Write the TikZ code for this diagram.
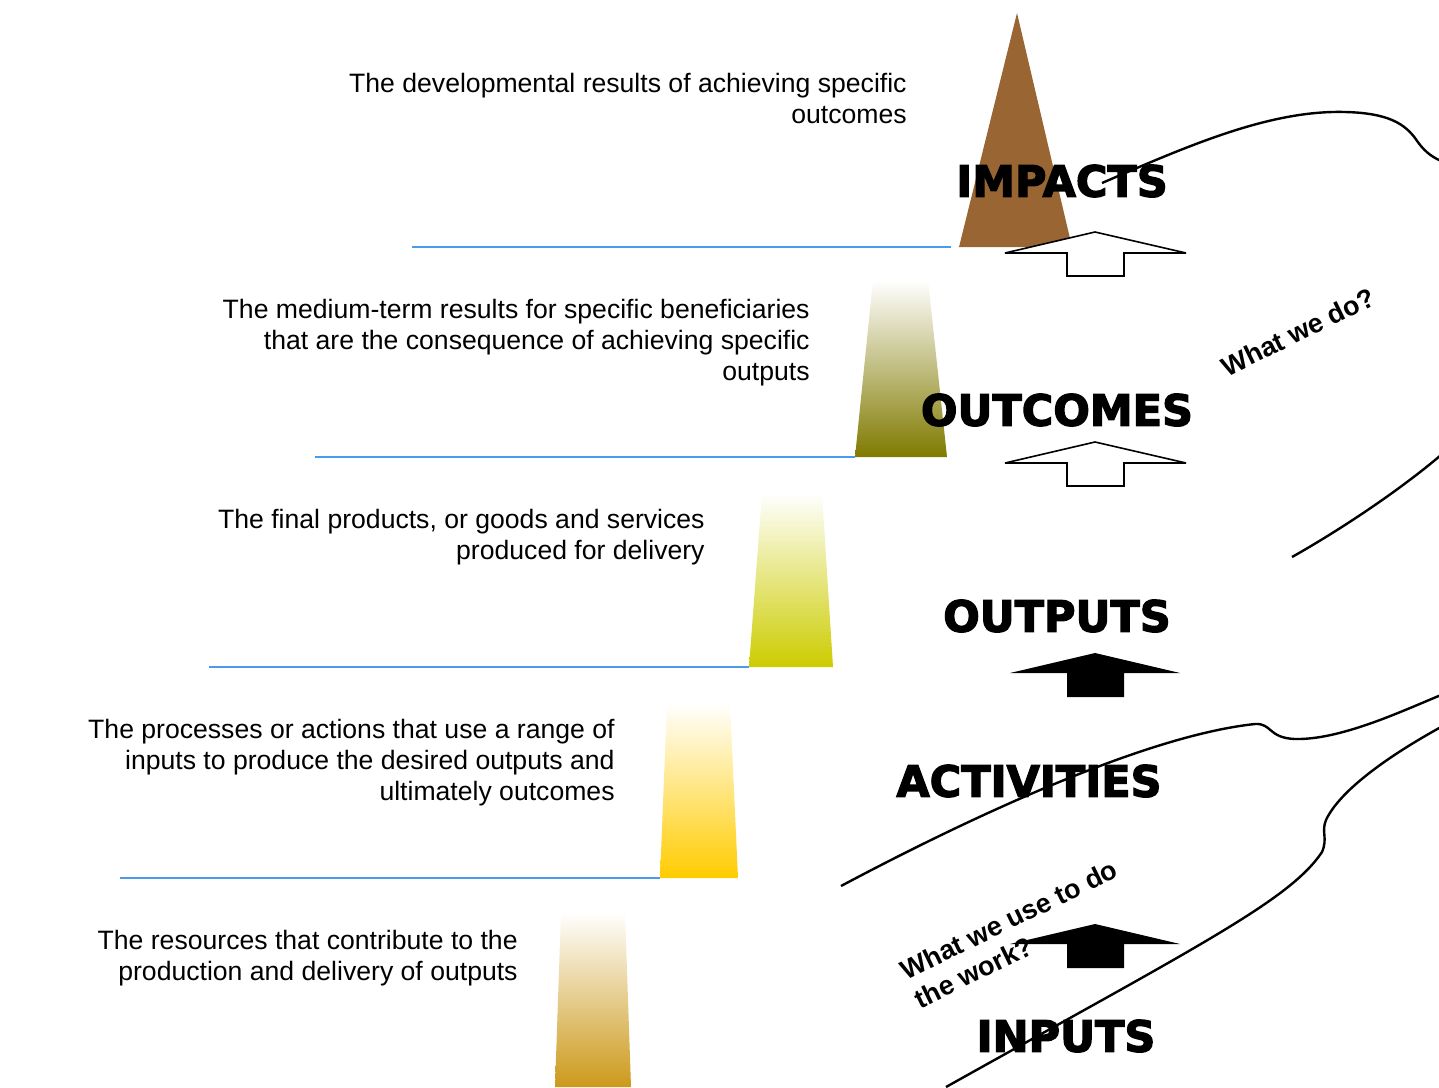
\documentclass[tikz,border=0pt]{standalone}
\usepackage{fontspec}
\setmainfont{Liberation Sans}
\newfontfamily\heavyfont{DejaVu Sans}[BoldFeatures={FakeBold=3}]
\usepackage{tikz}
\usetikzlibrary{positioning}

\definecolor{impactbrown}{RGB}{153,102,51}
\definecolor{outcomeolive}{RGB}{128,122,0}
\definecolor{outputlime}{RGB}{204,204,0}
\definecolor{activitygold}{RGB}{255,204,0}
\definecolor{inputochre}{RGB}{204,153,26}
\definecolor{guideblue}{RGB}{74,155,234}

\begin{document}
\begin{tikzpicture}[x=0.5pt,y=-0.5pt,
  descr/.style={anchor=north east,align=right,inner sep=0pt,font=\fontsize{13.3}{15.5}\selectfont},
  level/.style={inner sep=0pt,font=\heavyfont\bfseries\fontsize{21.5}{24}\selectfont},
  question/.style={inner sep=0pt,align=left,rotate=26,font=\bfseries\fontsize{13.5}{16}\selectfont},
  guide/.style={draw=guideblue,line width=1pt},
  wave/.style={draw=black,line width=1.2pt}]

  \useasboundingbox (0,0) rectangle (1439,1087);

  \fill[impactbrown] (1017,13) -- (1072,247) -- (959,247) -- cycle;
  \shade[top color=white,bottom color=outcomeolive] (873,280) -- (928,280) -- (947,457) -- (855,457) -- cycle;
  \shade[top color=white,bottom color=outputlime] (762,493) -- (822,493) -- (833,667) -- (749,667) -- cycle;
  \shade[top color=white,bottom color=activitygold] (667,703) -- (730,703) -- (738,878) -- (660,878) -- cycle;
  \shade[top color=white,bottom color=inputochre] (561,912) -- (625,912) -- (631,1087) -- (555,1087) -- cycle;

  \draw[guide] (412,247) -- (951,247);
  \draw[guide] (315,457) -- (855,457);
  \draw[guide] (209,667) -- (749,667);
  \draw[guide] (120,878) -- (660,878);

  \foreach \y in {232,442}
    \filldraw[fill=white,draw=black,line width=0.8pt,miter limit=3] (1005,\y+21) -- (1095,\y) -- (1186,\y+21) -- (1124,\y+21) -- (1124,\y+44) -- (1067,\y+44) -- (1067,\y+21) -- cycle;
  \foreach \y in {653,924}
    \fill (1010,\y+20) -- (1095,\y) -- (1180,\y+20) -- (1124,\y+20) -- (1124,\y+44) -- (1067,\y+44) -- (1067,\y+20) -- cycle;

  \node[level] (impacts) at (1062,181) {IMPACTS};
  \node[level] (outcomes) at (1057,410) {OUTCOMES};
  \node[level] (outputs) at (1057,616) {OUTPUTS};
  \node[level] (activities) at (1029,781) {ACTIVITIES};
  \node[level] (inputs) at (1066,1036) {INPUTS};

  \node[descr] (impactsdesc) at (907,73) {The developmental results of achieving specific\\outcomes};
  \node[descr] (outcomesdesc) at (810,299) {The medium-term results for specific beneficiaries\\that are the consequence of achieving specific\\outputs};
  \node[descr] (outputsdesc) at (705,509) {The final products, or goods and services\\produced for delivery};
  \node[descr] (activitiesdesc) at (615,719) {The processes or actions that use a range of\\inputs to produce the desired outputs and\\ultimately outcomes};
  \node[descr] (inputsdesc) at (518,930) {The resources that contribute to the\\production and delivery of outputs};

  \draw[wave] (1102,183) .. controls (1190,145) and (1270,110) .. (1345,112) .. controls (1390,113) and (1405,125) .. (1415,138) .. controls (1423,150) and (1430,156) .. (1441,161);
  \draw[wave] (1292,557) .. controls (1340,530) and (1400,490) .. (1441,455);
  \draw[wave] (841,886) .. controls (980,812) and (1150,735) .. (1255,724) .. controls (1272,723) and (1268,738) .. (1295,739) .. controls (1340,740) and (1400,712) .. (1441,695);
  \draw[wave] (1441,727) .. controls (1390,755) and (1340,790) .. (1326,820) .. controls (1321,832) and (1328,838) .. (1322,852) .. controls (1290,900) and (1200,945) .. (946,1087);

  \node[question] (whatwedo) at (1298,332) {What we do?};
  \node[question] (whatweuse) at (1016,934) {What we use to do\\the work?};

\end{tikzpicture}
\end{document}
